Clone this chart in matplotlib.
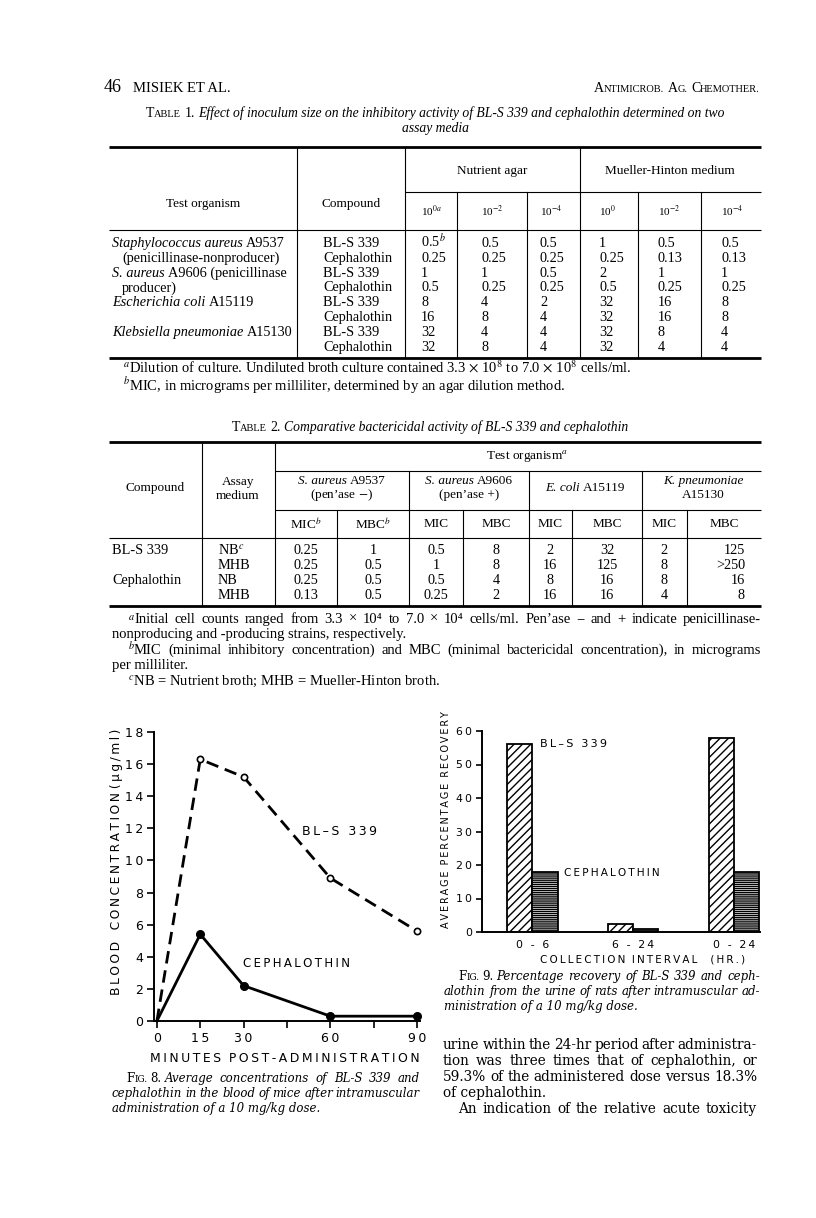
import numpy as np
import matplotlib
matplotlib.use('Agg')
import matplotlib.pyplot as plt

plt.rcParams['font.family'] = 'Liberation Serif'
plt.rcParams['mathtext.fontset'] = 'stix'
plt.rcParams['hatch.linewidth'] = 1.0

# ---- data ----
# Table 1: MIC values, nutrient agar / Mueller-Hinton at 10^0, 10^-2, 10^-4
t1_org = [('Staphylococcus aureus', ' A9537', 0),
          ('', '(penicillinase-nonproducer)', 1),
          ('S. aureus', ' A9606 (penicillinase', 0),
          ('', 'producer)', 1),
          ('Escherichia coli', ' A15119', 0),
          None,
          ('Klebsiella pneumoniae', ' A15130', 0),
          None]
t1_comp = ['BL-S 339', 'Cephalothin'] * 4
t1_heads = ['10$^{0a}$', '10$^{-2}$', '10$^{-4}$', '10$^{0}$', '10$^{-2}$', '10$^{-4}$']
t1_na0 = ['0.5$^b$', '0.25', '1', '0.5', '8', '16', '32', '32']
t1_na2 = ['0.5', '0.25', '1', '0.25', '4', '8', '4', '8']
t1_na4 = ['0.5', '0.25', '0.5', '0.25', '2', '4', '4', '4']
t1_mh0 = ['1', '0.25', '2', '0.5', '32', '32', '32', '32']
t1_mh2 = ['0.5', '0.13', '1', '0.25', '16', '16', '8', '4']
t1_mh4 = ['0.5', '0.13', '1', '0.25', '8', '8', '4', '4']

# Table 2: MIC / MBC
t2_comp = ['BL-S 339', '', 'Cephalothin', '']
t2_med = ['NB$^c$', 'MHB', 'NB', 'MHB']
t2_heads = ['MIC$^b$', 'MBC$^b$', 'MIC', 'MBC', 'MIC', 'MBC', 'MIC', 'MBC']
t2_a9537_mic = ['0.25', '0.25', '0.25', '0.13']
t2_a9537_mbc = ['1', '0.5', '0.5', '0.5']
t2_a9606_mic = ['0.5', '1', '0.5', '0.25']
t2_a9606_mbc = ['8', '8', '4', '2']
t2_ecoli_mic = ['2', '16', '8', '16']
t2_ecoli_mbc = ['32', '125', '16', '16']
t2_kpn_mic = ['2', '8', '8', '4']
t2_kpn_mbc = ['125', '>250', '16', '8']

# Fig 8: blood concentration (ug/ml) vs minutes
minutes = [0, 15, 30, 60, 90]
bls_blood = [0, 16.3, 15.2, 8.9, 5.6]
ceph_blood = [0, 5.4, 2.2, 0.3, 0.3]

# Fig 9: urinary recovery (%)
intervals = ['0 - 6', '6 - 24', '0 - 24']
bls_urine = [56, 2.4, 58]
ceph_urine = [17.8, 1.0, 18]

W, H = 816, 1218
fig = plt.figure(figsize=(W / 100, H / 100), dpi=100)
ov = fig.add_axes([0, 0, 1, 1])
ov.set_xlim(0, W)
ov.set_ylim(H, 0)
ov.axis('off')
R = fig.canvas.get_renderer()


def width(t):
    return t.get_window_extent(renderer=R).width


def run(x, y, parts, ha='left'):
    objs = []
    cur = x
    for s, kw in parts:
        fs = kw.get('fontsize', 10)
        sp = fs * 100 / 72 * 0.25
        lead = len(s) - len(s.lstrip(' '))
        trail = len(s) - len(s.rstrip(' '))
        cur += lead * sp
        t = ov.text(cur, y + 4, s.strip(' '), va='baseline', **kw)
        objs.append(t)
        cur += width(t) + trail * sp
    shift = {'left': 0, 'center': -(cur - x) / 2, 'right': -(cur - x)}[ha]
    for t in objs:
        t.set_x(t.get_position()[0] + shift)
    return cur + shift


def justify(x0, x1, y, text, **kw):
    words = text.split()
    ts = [ov.text(0, y + 4, w, va='baseline', **kw) for w in words]
    ws = [width(t) for t in ts]
    gap = (x1 - x0 - sum(ws)) / max(len(words) - 1, 1)
    cur = x0
    for t, w in zip(ts, ws):
        t.set_x(cur)
        cur += w + gap


def hline(y, x0, x1, lw=0.8):
    ov.plot([x0, x1], [y, y], color='black', lw=lw, solid_capstyle='butt')


def vline(x, y0, y1, lw=0.8):
    ov.plot([x, x], [y0, y1], color='black', lw=lw)


sc = lambda big, small, fs=10, fam='Liberation Serif': [(big, dict(fontsize=fs, family=fam)),
                                                      (small, dict(fontsize=fs * 0.75, family=fam))]
tf = dict(fontsize=10.3)
it = dict(fontsize=10.3, style='italic')

# ---- page header ----
ov.text(104, 92, '46', fontsize=13, va='baseline')
ov.text(133, 92, 'MISIEK ET AL.', fontsize=10.5, va='baseline')
run(760, 88, sc('A', 'NTIMICROB.') + sc(' A', 'G.') + sc(' C', 'HEMOTHER.'), ha='right')

# ---- table 1 ----
run(435, 113, sc('T', 'ABLE') + [(' 1. ', dict(fontsize=10)),
    ('Effect of inoculum size on the inhibitory activity of BL-S 339 and cephalothin determined on two',
     dict(fontsize=9.8, style='italic'))], ha='center')
run(435, 128, [('assay media', dict(fontsize=9.8, style='italic'))], ha='center')

L, RR = 109, 761
t1_top, t1_grp, t1_hb, t1_bot = 147, 192, 230, 358
hline(t1_top, L, RR, 2)
hline(t1_grp, 405, RR)
hline(t1_hb, L, RR)
hline(t1_bot, L, RR, 2)
for x in [297, 405, 580]:
    vline(x, t1_top, t1_bot)
for x in [457, 527, 638, 701]:
    vline(x, t1_grp, t1_bot)
ov.text(203, 204, 'Test organism', ha='center', va='center', fontsize=9.5)
ov.text(351, 204, 'Compound', ha='center', va='center', fontsize=9.5)
ov.text(492, 171, 'Nutrient agar', ha='center', va='center', fontsize=9.5)
ov.text(670, 171, 'Mueller-Hinton medium', ha='center', va='center', fontsize=9.5)
t1_x = [421, 481, 540, 599, 658, 721]
for x, h in zip(t1_x, t1_heads):
    ov.text(x, 211, h, ha='left', va='center', fontsize=8)
t1_cols = [t1_na0, t1_na2, t1_na4, t1_mh0, t1_mh2, t1_mh4]
for i in range(8):
    y = 243 + 14.8 * i
    o = t1_org[i]
    if o is not None:
        parts = []
        if o[0]:
            parts.append((o[0], it))
        parts.append((o[1], tf))
        run(112 + 10 * o[2], y, parts)
    run(323, y, [(t1_comp[i], tf)])
    for x, col in zip(t1_x, t1_cols):
        run(x, y, [(col[i], tf)])
fn = dict(fontsize=10.5)
run(123, 369, [('$^a$Dilution of culture. Undiluted broth culture contained 3.3 $\\times$ 10$^8$ to 7.0 $\\times$ 10$^8$ cells/ml.',
                fn)])
run(123, 386, [('$^b$MIC, in micrograms per milliliter, determined by an agar dilution method.', fn)])

# ---- table 2 ----
run(430, 427, sc('T', 'ABLE') + [(' 2. ', dict(fontsize=10)),
    ('Comparative bactericidal activity of BL-S 339 and cephalothin', dict(fontsize=9.8, style='italic'))],
    ha='center')
t2_top, t2_grp, t2_sub, t2_hb, t2_bot = 442, 471, 510, 538, 606
hline(t2_top, L, RR, 2)
hline(t2_grp, 275, RR)
hline(t2_sub, 275, RR)
hline(t2_hb, L, RR)
hline(t2_bot, L, RR, 2)
for x in [202, 275]:
    vline(x, t2_top, t2_bot)
for x in [409, 529, 642]:
    vline(x, t2_grp, t2_bot)
for x in [337, 463, 572, 687]:
    vline(x, t2_sub, t2_bot)
ov.text(155, 488, 'Compound', ha='center', va='center', fontsize=9.5)
ov.text(238, 482, 'Assay', ha='center', va='center', fontsize=9.5)
ov.text(238, 496, 'medium', ha='center', va='center', fontsize=9.5)
ov.text(527, 456, 'Test organism$^a$', ha='center', va='center', fontsize=9.5)
run(342, 480, [('S. aureus', dict(fontsize=9.5, style='italic')), (' A9537', dict(fontsize=9.5))], ha='center')
run(342, 494, [('(pen’ase $-$)', dict(fontsize=9.5))], ha='center')
run(469, 480, [('S. aureus', dict(fontsize=9.5, style='italic')), (' A9606', dict(fontsize=9.5))], ha='center')
run(469, 494, [('(pen’ase +)', dict(fontsize=9.5))], ha='center')
run(585, 487, [('E. coli', dict(fontsize=9.5, style='italic')), (' A15119', dict(fontsize=9.5))], ha='center')
run(703, 480, [('K. pneumoniae', dict(fontsize=9.5, style='italic'))], ha='center')
run(703, 494, [('A15130', dict(fontsize=9.5))], ha='center')
t2_xc = [306, 373, 436, 496, 550, 607, 664, 724]
for x, h in zip(t2_xc, t2_heads):
    ov.text(x, 524, h, ha='center', va='center', fontsize=9.5)
t2_cols = [t2_a9537_mic, t2_a9537_mbc, t2_a9606_mic, t2_a9606_mbc,
           t2_ecoli_mic, t2_ecoli_mbc, t2_kpn_mic, t2_kpn_mbc]
for i in range(4):
    y = 550 + 15 * i
    if t2_comp[i]:
        run(112, y, [(t2_comp[i], tf)])
    run(218, y, [(t2_med[i], tf)])
    for j, col in enumerate(t2_cols):
        if j == 7:
            run(745, y, [(col[i], tf)], ha='right')
        else:
            run(t2_xc[j], y, [(col[i], tf)], ha='center')
run(128, 619, [('$^a$', fn)])
justify(134, RR, 619, 'Initial cell counts ranged from 3.3 × 10⁴ to 7.0 × 10⁴ cells/ml. Pen’ase − and + indicate penicillinase-', **fn)
run(112, 634, [('nonproducing and -producing strains, respectively.', fn)])
run(128, 650, [('$^b$', fn)])
justify(134, RR, 650, 'MIC (minimal inhibitory concentration) and MBC (minimal bactericidal concentration), in micrograms', **fn)
run(112, 665, [('per milliliter.', fn)])
run(128, 681, [('$^c$NB = Nutrient broth; MHB = Mueller-Hinton broth.', fn)])


def box(l, t, r, b):
    return [l / W, 1 - b / H, (r - l) / W, (b - t) / H]


sp = lambda s: '\u2009'.join(s)
sans = 'DejaVu Sans'
cap = dict(fontsize=8.5, style='italic', family='DejaVu Serif')
capr = dict(fontsize=8.5, family='DejaVu Serif')

# ---- Fig 8 ----
ax8 = fig.add_axes(box(154, 732, 420, 1021))
ax8.plot(minutes, bls_blood, color='black', lw=2, dashes=(4.5, 2.5), marker='o', ms=4.5,
         mfc='white', mec='black', mew=1.2, markevery=[1, 2, 3, 4], clip_on=False)
ax8.plot(minutes, ceph_blood, color='black', lw=2, marker='o', ms=5.5, markevery=[1, 2, 3, 4],
         clip_on=False)
ax8.set_xlim(-1, 91)
ax8.set_ylim(0, 18)
ax8.set_xticks([0, 15, 30, 45, 60, 75, 90], [sp(s) for s in ['0', '15', '30', '', '60', '', '90']],
               fontfamily=sans, fontsize=9)
ax8.set_yticks(np.arange(0, 19, 2), [sp(str(v)) for v in range(0, 19, 2)], fontfamily=sans, fontsize=9)
ax8.tick_params(length=5, width=1.2, pad=3)
for s in ['top', 'right']:
    ax8.spines[s].set_visible(False)
for s in ['left', 'bottom']:
    ax8.spines[s].set_linewidth(1.4)
ax8.text(50.2, 11.8, sp('BL–S 339'), fontfamily=sans, fontsize=9, va='center')
ax8.text(29.8, 3.6, sp('CEPHALOTHIN'), fontfamily=sans, fontsize=8.5, va='center')
ov.text(117, 862, sp('BLOOD') + '   ' + sp('CONCENTRATION') + ' ' + sp('(µg/ml)'), rotation=90,
        ha='center', va='center', fontfamily=sans, fontsize=8.8)
ov.text(285, 1059, sp('MINUTES') + '  ' + sp('POST-ADMINISTRATION'), ha='center', va='center',
        fontfamily=sans, fontsize=8.9)
x = run(126, 1078, sc('F', 'IG.', 8.5, 'DejaVu Serif') + [(' 8. ', capr)])
justify(x, 420, 1078, 'Average concentrations of BL-S 339 and', **cap)
justify(112, 420, 1093, 'cephalothin in the blood of mice after intramuscular', **cap)
run(112, 1108, [('administration of a 10 mg/kg dose.', cap)])

# ---- Fig 9 ----
ax9 = fig.add_axes(box(482, 731, 760, 932))
xg = np.arange(len(intervals))
ax9.bar(xg - 0.125, bls_urine, 0.25, facecolor='white', edgecolor='black', hatch='////', lw=1.3)
ax9.bar(xg + 0.125, ceph_urine, 0.25, facecolor='white', edgecolor='black', hatch='--------', lw=1.3)
ax9.set_xlim(-0.5, 2.26)
ax9.set_ylim(0, 60)
ax9.set_xticks(xg, [sp(s) for s in intervals], fontfamily=sans, fontsize=7.8)
ax9.set_yticks(np.arange(0, 61, 10), [sp(str(v)) for v in range(0, 61, 10)], fontfamily=sans, fontsize=7.8)
ax9.tick_params(axis='x', length=0, pad=6)
ax9.tick_params(axis='y', length=4, width=1.2, pad=3)
for s in ['top', 'right']:
    ax9.spines[s].set_visible(False)
for s in ['left', 'bottom']:
    ax9.spines[s].set_linewidth(1.4)
ax9.text(0.08, 56, sp('BL–S 339'), fontfamily=sans, fontsize=8, va='center')
ax9.text(0.31, 17.6, sp('CEPHALOTHIN'), fontfamily=sans, fontsize=7.6, va='center')
ov.text(446, 820, sp('AVERAGE') + '  ' + sp('PERCENTAGE') + '  ' + sp('RECOVERY'), rotation=90,
        ha='center', va='center', fontfamily=sans, fontsize=6.9)
ov.text(643, 959, sp('COLLECTION') + '  ' + sp('INTERVAL') + '    ' + sp('(HR.)'), ha='center', va='center',
        fontfamily=sans, fontsize=7.5)
x = run(458, 976, sc('F', 'IG.', 8.5, 'DejaVu Serif') + [(' 9. ', capr)])
justify(x, 760, 976, 'Percentage recovery of BL-S 339 and ceph-', **cap)
justify(444, 760, 991, 'alothin from the urine of rats after intramuscular ad-', **cap)
run(444, 1006, [('ministration of a 10 mg/kg dose.', cap)])

# ---- body text ----
body = dict(fontsize=9.8, family='DejaVu Serif')
justify(443, 757, 1045, 'urine within the 24-hr period after administra-', **body)
justify(443, 757, 1061, 'tion was three times that of cephalothin, or', **body)
justify(443, 757, 1077, '59.3% of the administered dose versus 18.3%', **body)
run(443, 1093, [('of cephalothin.', body)])
justify(458, 757, 1109, 'An indication of the relative acute toxicity', **body)

fig.savefig('out.png', dpi=100)
